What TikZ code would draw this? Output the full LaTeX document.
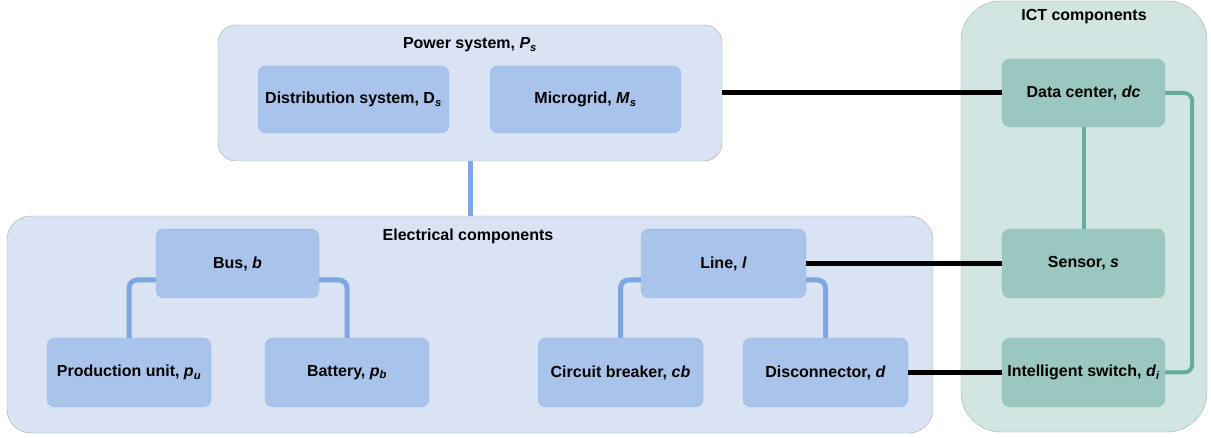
\documentclass[tikz,border=0pt]{standalone}
\usepackage{fontspec}
\setmainfont{Liberation Sans}
\definecolor{outerblue}{HTML}{D9E3F4}
\definecolor{innerblue}{HTML}{A9C4EB}
\definecolor{edgeblue}{HTML}{7EA6E0}
\definecolor{outergreen}{HTML}{D1E5E2}
\definecolor{innergreen}{HTML}{9AC7BF}
\definecolor{edgegreen}{HTML}{67AB9F}
\newcommand{\lowidx}[1]{\textsubscript{\itshape #1}}
\begin{document}
\begin{tikzpicture}[x=1pt, y=-1pt, font=\fontsize{16}{19}\selectfont\bfseries,
	blgroup/.style={draw=gray!70, fill=outerblue, rounded corners=18pt, inner sep=0pt},
	grgroup/.style={draw=gray!70, fill=outergreen, rounded corners=40pt, inner sep=0pt},
	blbox/.style={draw=edgeblue!80, fill=innerblue, rounded corners=8pt, inner sep=0pt, minimum width=164, minimum height=69},
	grbox/.style={draw=edgegreen!70, fill=innergreen, rounded corners=8pt, inner sep=0pt, minimum width=163, minimum height=69},
	blink/.style={draw=edgeblue, line width=5pt, rounded corners=8pt},
	glink/.style={draw=edgegreen, line width=4pt, rounded corners=8pt},
	wire/.style={draw=black, line width=5pt}]
	\useasboundingbox (0,0) rectangle (1211,438);
	% Khung ngoai
	\node[blgroup, minimum width=504, minimum height=136] (ps) at (470,93) {};
	\node[blgroup, rounded corners=24pt, minimum width=926, minimum height=217] (ec) at (470,324.5) {};
	\node[grgroup, minimum width=246, minimum height=431] (ict) at (1084,216.5) {};
	\node (pstitle) at (470,45) {Power system, \textit{P}\lowidx{s}};
	\node (ectitle) at (468,236) {Electrical components};
	\node (icttitle) at (1084,17) {ICT components};
	\node[blbox, minimum width=191, minimum height=67] (ds) at (353.5,99.5) {Distribution system, D\lowidx{s}};
	\node[blbox, minimum width=191, minimum height=67] (mg) at (585.5,99.5) {Microgrid, \textit{M}\lowidx{s}};
	\node[blbox, minimum width=163] (bus) at (237.5,263.5) {Bus, \textit{b}};
	\node[blbox] (pu) at (129,372.5) {Production unit, \textit{p}\lowidx{u}};
	\node[blbox] (bat) at (347,372.5) {Battery, \textit{p}\lowidx{b}};
	\node[blbox, minimum width=165] (line) at (723.5,263.5) {Line, \textit{l}};
	\node[blbox, minimum width=165] (cb) at (620.5,372.5) {Circuit breaker, \textit{cb}};
	\node[blbox, minimum width=165] (disc) at (825.5,372.5) {Disconnector, \textit{d}};
	\node[grbox, minimum height=68] (dc) at (1083.5,93) {Data center, \textit{dc}};
	\node[grbox] (sensor) at (1083.5,263.5) {Sensor, \textit{s}};
	\node[grbox] (switch) at (1083.5,372.5) {Intelligent switch, \textit{d}\lowidx{i}};
	% Ket noi
	\draw[blink] (ps.south) -- (ec.north);
	\draw[blink] ([yshift=-16.5]bus.west) -| (pu.north);
	\draw[blink] ([yshift=-16.5]bus.east) -| (bat.north);
	\draw[blink] ([yshift=-16.5]line.west) -| (cb.north);
	\draw[blink] ([yshift=-16.5]line.east) -| (disc.north);
	\draw[wire] (ps.east) -- (dc.west);
	\draw[wire] (line.east) -- (sensor.west);
	\draw[wire] (disc.east) -- (switch.west);
	\draw[glink] (dc.south) -- (sensor.north);
	\draw[glink] (dc.east) -- ++(27,0) |- (switch.east);
\end{tikzpicture}
\end{document}
